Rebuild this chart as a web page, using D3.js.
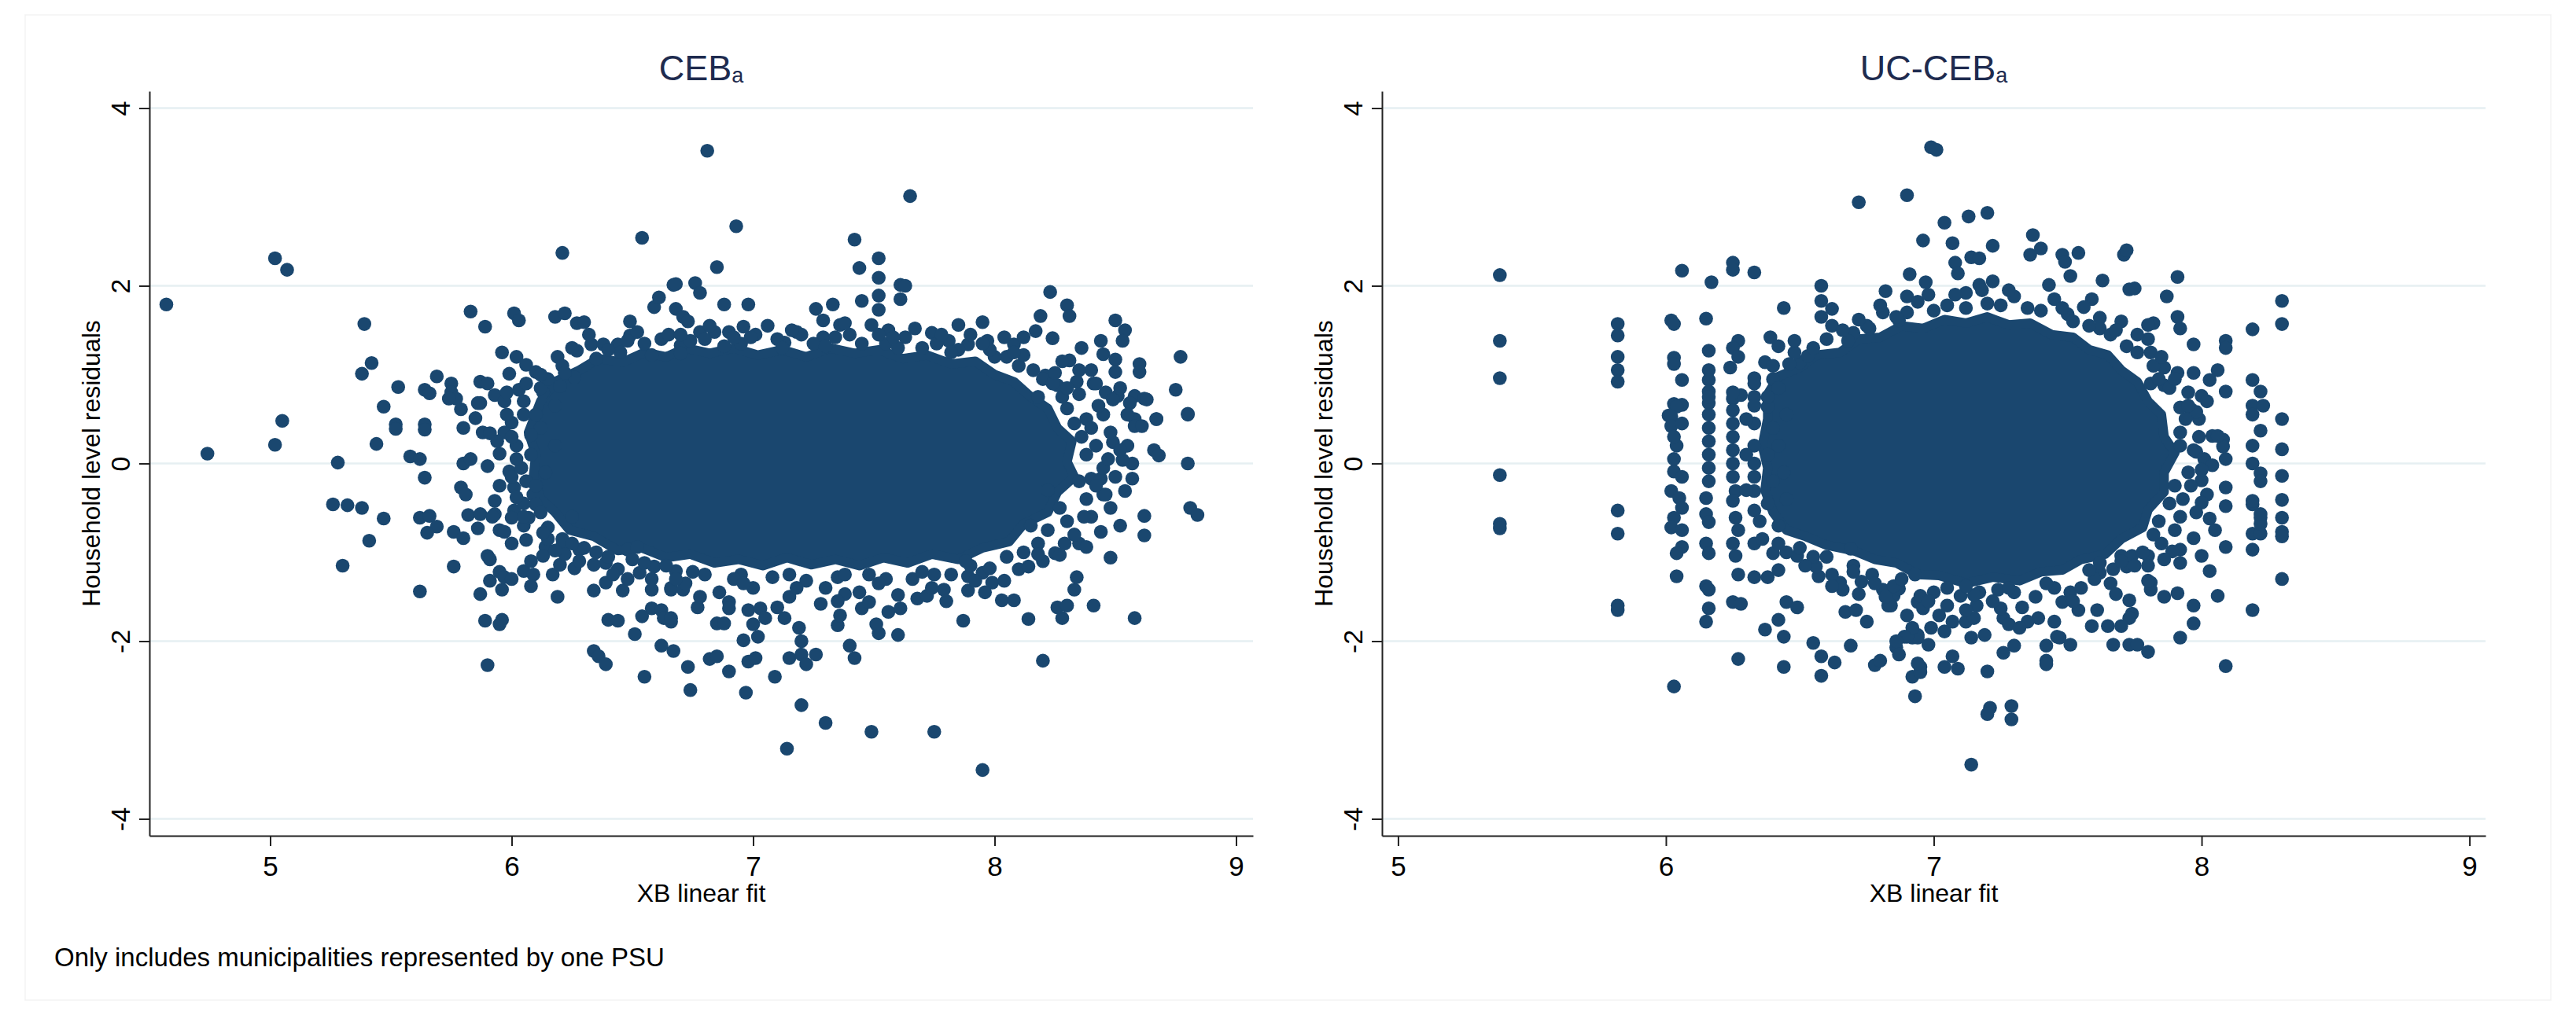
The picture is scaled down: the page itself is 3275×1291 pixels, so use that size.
<!DOCTYPE html>
<html>
<head>
<meta charset="utf-8">
<script src="https://cdn.jsdelivr.net/npm/d3@7/dist/d3.min.js"></script>
<style>
  body { margin: 0; background: #fff; }
  svg { font-family: "Liberation Sans", Arial, sans-serif; }
</style>
</head>
<body>
<div id="graf"></div>
<script>
const xTicks = [5, 6, 7, 8, 9]
const yTicks = [-4, -2, 0, 2, 4]
const nota = "Only includes municipalities represented by one PSU"

// CEB_a : puntos [xb, residuo]
const cebPoints = [
  [4.57,1.79],[5.02,2.31],[5.07,2.18],[6.54,2.54],[6.21,2.37],[5.39,1.57],[5.83,1.71],[5.89,1.54],[6.01,1.69],[6.03,1.61],
  [6.18,1.65],[6.22,1.69],[6.27,1.58],[6.30,1.59],[6.49,1.60],[6.49,1.44],[6.59,1.76],[6.61,1.87],[6.67,2.01],[5.96,1.25],
  [6.02,1.20],[6.06,1.11],[6.10,1.03],[6.33,1.34],[6.38,1.34],[6.44,1.34],[6.27,1.27],[6.19,1.20],[6.21,1.10],[5.42,1.13],
  [5.38,1.01],[5.53,0.86],[5.64,0.83],[5.66,0.79],[5.69,0.98],[5.75,0.90],[5.75,0.80],[5.77,0.73],[5.79,0.61],[5.87,0.92],
  [5.90,0.90],[5.87,0.68],[5.99,1.01],[5.93,0.77],[5.97,0.70],[6.03,0.83],[6.13,0.80],[5.47,0.64],[5.05,0.48],[5.52,0.44],
  [5.64,0.44],[6.20,0.87],[6.26,0.97],
  [6.81,3.52],[7.65,3.01],[6.93,2.67],[7.42,2.52],[6.85,2.21],[7.52,2.31],[7.44,2.20],[7.52,2.09],[7.52,1.89],[7.52,1.73],
  [7.61,2.01],[7.63,2.00],[7.61,1.85],[7.45,1.83],[6.68,2.02],[6.76,2.03],[6.78,1.92],[6.68,1.74],[6.71,1.65],[6.73,1.60],
  [6.88,1.79],[6.98,1.79],[8.23,1.93],[8.30,1.78],[8.31,1.66],[8.19,1.66],[8.17,1.49],[8.24,1.41],[8.50,1.61],[8.54,1.50],
  [8.53,1.38],[8.77,1.20],[8.75,0.83],[8.80,0.56],[8.60,1.12],[8.60,1.03],[8.44,1.38],[8.36,1.30],[8.31,1.16],[8.45,1.23],
  [8.50,1.17],[8.50,1.03],[7.85,1.56],[7.95,1.59],[7.97,1.38],[7.74,1.47],[7.81,1.38],[7.89,1.34],[7.63,1.42],[7.56,1.50],
  [7.26,1.74],[7.33,1.79],[7.29,1.61],[7.36,1.56],[7.29,1.42],[7.49,1.56],[7.18,1.48],[7.13,1.36],[6.96,1.54],[6.78,1.48],
  [6.84,1.48],[6.90,1.48],[7.01,1.45],[6.70,1.33],[6.70,1.24],[8.08,1.34],[8.12,1.42],[8.05,1.20],[8.21,0.99],[8.26,0.88],
  [8.34,0.92],[8.41,0.90],[8.46,0.80],[8.51,0.76],[8.58,0.76],[8.62,0.73],[8.58,0.50],[8.67,0.50],
  [4.74,0.11],[5.02,0.21],[5.28,0.01],[5.26,-0.46],[5.32,-0.47],[5.38,-0.50],[5.47,-0.62],[5.41,-0.87],[5.30,-1.15],[5.44,0.22],
  [5.52,0.39],[5.58,0.08],[5.62,0.05],[5.64,0.38],[5.64,-0.16],[5.62,-0.61],[5.66,-0.59],[5.69,-0.71],[5.65,-0.78],[5.62,-1.44],
  [5.76,-0.77],[5.80,-0.84],[5.76,-1.16],[5.80,0.00],[5.83,0.05],[5.79,-0.27],[5.81,-0.35],[5.80,0.40],[5.86,0.68],[5.85,0.51],
  [5.88,0.35],[5.91,0.34],[5.82,-0.58],[5.87,-0.57],[5.86,-0.73],[5.90,-0.03],[5.95,-0.25],[5.93,-0.42],[5.93,-0.57],[5.95,-0.75],
  [5.97,-0.77],[5.90,-1.04],[5.91,-1.08],[5.95,-1.22],[5.97,-1.28],[5.91,-1.32],[5.96,-1.42],[6.00,-1.30],[5.87,-1.47],[5.89,-1.77],
  [5.95,-1.81],[5.96,-1.76],[5.90,-2.27],[6.05,-1.21],[6.09,-1.25],[6.08,-1.38],[6.06,-0.86],[6.05,-0.70],[6.14,-0.94],[6.13,-1.04],
  [6.17,-1.25],[6.20,-1.14],[6.26,-1.18],[6.19,-1.50],[6.21,-0.85],[6.21,-0.92],[6.28,-0.97],[6.30,-0.95],[6.34,-1.14],[6.39,-1.12],
  [6.44,-1.19],[6.34,-1.43],[6.39,-1.34],[6.46,-1.43],[6.40,-1.76],[6.44,-1.77],[6.51,-1.92],[6.34,-2.11],[6.36,-2.17],[6.39,-2.26],
  [6.54,-1.72],[6.58,-1.63],[6.62,-1.65],[6.66,-1.78],[6.55,-2.40],[6.62,-2.05],[6.67,-2.11],[6.66,-1.42],[6.53,-1.23],[6.59,-1.16],
  [6.68,-1.21],[6.48,-0.97],[6.52,-0.94],[6.00,0.46],[5.97,0.35],[6.01,-0.27],[6.01,-0.53],[6.00,-0.61],[5.95,0.11],[5.99,-0.09],
  [5.74,0.73],[6.06,-0.20],[6.09,-0.35],[6.10,-0.46],[6.07,-0.61],
  [7.14,-3.21],[7.95,-3.45],[7.30,-2.92],[7.49,-3.02],[7.75,-3.02],[7.20,-2.72],[6.97,-2.58],[6.74,-2.55],[6.73,-2.29],[6.82,-2.20],
  [6.85,-2.17],[6.90,-2.34],[6.98,-2.23],[7.01,-2.19],[6.96,-1.99],[7.02,-1.95],[7.00,-1.81],[7.09,-2.40],[7.15,-2.19],[7.20,-2.15],
  [7.22,-2.26],[7.26,-2.15],[7.20,-2.00],[7.19,-1.85],[7.40,-2.05],[7.42,-2.19],[7.35,-1.82],[7.36,-1.71],[7.52,-1.91],[7.60,-1.93],
  [7.51,-1.81],[7.87,-1.77],[8.20,-2.22],[8.14,-1.75],[8.28,-1.74],[8.26,-1.62],[8.30,-1.60],[8.41,-1.60],[8.58,-1.74],[8.33,-1.42],
  [8.34,-1.28],[8.03,-1.54],[8.08,-1.54],[8.10,-1.19],[8.14,-1.16],[8.48,-1.06],[8.44,-0.77],[8.62,-0.59],[8.62,-0.81],[8.81,-0.50],
  [8.84,-0.58],[8.80,0.00],[8.80,0.55],[8.66,0.15],[8.68,0.09],[8.67,0.50],[8.57,-0.17],[8.54,-0.31],[8.57,0.00],[8.45,-0.35],
  [8.40,-0.17],[8.44,-0.17],[8.55,0.20],[8.58,0.42],[8.61,0.42],[8.56,0.68],[8.63,0.72],[8.49,0.72],[8.49,0.24],[8.53,0.04],
  [8.35,-0.90],[8.38,-0.94],[8.25,-1.01],[8.27,-1.03],[8.22,-0.75],[7.89,-1.27],[7.95,-1.23],[7.99,-1.34],[7.96,-1.45],[7.89,-1.43],
  [7.79,-1.42],[7.68,-1.52],[7.72,-1.49],[7.56,-1.67],[7.61,-1.63],[7.45,-1.63],[7.48,-1.56],[7.38,-1.47],[6.63,-1.74],[6.66,-1.74],
  [6.77,-1.62],[6.85,-1.80],[6.88,-1.80],[6.66,-1.40],[6.71,-1.42],[6.90,-1.56],[6.90,-1.63],[6.98,-1.65],[7.03,-1.63],[7.05,-1.74],
  [7.13,-1.74],
  [6.45,1.25],[6.55,1.35],[6.62,1.40],[6.80,1.40],[6.95,1.35],[7.10,1.40],[7.25,1.35],[7.40,1.45],[7.55,1.35],[7.70,1.30],
  [7.85,1.28],[8.00,1.20],[8.10,1.10],[8.20,0.95],[8.28,0.75],[8.38,0.50],[8.42,0.20],[8.45,-0.05],[8.38,-0.40],[8.30,-0.65],
  [8.18,-0.90],[8.05,-1.05],[7.90,-1.15],[7.75,-1.25],[7.55,-1.30],[7.35,-1.28],[7.15,-1.25],[6.95,-1.25],[6.75,-1.22],[6.55,-1.12],
  [6.40,-1.05],[6.25,-0.90],[6.15,-0.72],[6.05,-0.45],[6.00,-0.15],[6.02,0.20],[6.05,0.55],[6.12,0.85],[6.22,1.02],[6.35,1.18],
  [6.25,1.30],[6.32,1.45],[6.40,1.28],[6.52,1.48],[6.58,1.22],[6.65,1.45],[6.74,1.38],[6.82,1.55],[6.88,1.32],[6.99,1.42],
  [7.06,1.55],[7.12,1.30],[7.20,1.45],[7.30,1.32],[7.38,1.58],[7.45,1.35],[7.52,1.45],[7.60,1.30],[7.67,1.52],[7.76,1.35],
  [7.82,1.25],[7.90,1.45],[7.98,1.28],[8.04,1.42],[8.12,1.22],[8.16,1.05],
  [8.18,0.75],[8.24,0.90],[8.30,0.62],[8.35,0.78],[8.40,0.40],[8.33,0.45],[8.45,0.55],[8.48,0.35],[8.38,0.10],[8.47,0.05],
  [8.50,-0.15],[8.42,-0.25],[8.35,-0.20],[8.48,-0.50],[8.40,-0.60],[8.33,-0.80],[8.27,-0.50],[8.22,-0.30],[8.15,-0.70],[8.12,-1.00],
  [8.20,-1.10],[8.52,-0.70],[8.55,0.55],[8.52,0.85],[8.40,1.05],[8.28,1.15],[8.35,1.05],
  [6.35,-1.00],[6.42,-1.25],[6.50,-1.08],[6.58,-1.30],[6.64,-1.15],[6.72,-1.35],[6.80,-1.25],[6.86,-1.45],[6.92,-1.30],[7.00,-1.40],
  [7.08,-1.28],[7.15,-1.50],[7.22,-1.32],[7.30,-1.40],[7.38,-1.25],[7.44,-1.45],[7.52,-1.35],[7.60,-1.48],[7.66,-1.30],[7.74,-1.40],
  [7.82,-1.25],[7.88,-1.10],[7.98,-1.18],[8.04,-1.32],[7.10,-1.62],[7.28,-1.58],[6.78,-1.50],
  [6.05,0.70],[6.10,0.55],[6.00,0.30],[6.08,0.10],[6.12,0.40],[6.15,0.95],[6.18,0.65],[6.04,-0.05],[6.10,-0.25],[6.02,-0.38],
  [6.12,-0.55],[6.15,-0.85],[6.22,-1.02],[6.28,-1.10],[6.25,-0.60],[6.18,0.20],[6.14,-0.10],[5.98,0.55],[5.94,0.25],[5.92,-0.60],
  [6.08,-1.10],
  [8.36,0.30],[8.43,0.65],[8.30,0.85],[8.46,-0.35],[8.37,-0.60],[8.29,-0.90],[8.42,0.90],[8.52,0.15],[8.25,1.02],[8.18,-1.02],
  [6.06,0.90],[6.12,1.00],[6.02,0.05],[6.05,-0.60],[6.13,-0.78],[6.00,-0.90],[6.18,-0.98],[5.98,0.80],[6.08,0.32],
  [6.48,1.38],[6.70,1.45],[6.92,1.42],[7.16,1.50],[7.34,1.42],[7.58,1.42],[7.78,1.45],[7.95,1.35],[8.08,1.25],
  [6.48,-1.30],[6.68,-1.30],[6.96,-1.35],[7.18,-1.40],[7.48,-1.25],[7.70,-1.22],[7.92,-1.32],[6.58,-1.42],[7.35,-1.55],[7.80,-1.55]
]

// zona donde los puntos se solapan por completo
const cebCore = [
  [6.12,0.70],[6.18,0.92],[6.28,1.05],[6.36,1.18],[6.46,1.14],[6.55,1.25],[6.64,1.20],[6.72,1.30],[6.82,1.24],[6.92,1.30],
  [7.02,1.22],[7.12,1.28],[7.22,1.20],[7.32,1.30],[7.42,1.24],[7.52,1.28],[7.62,1.18],[7.72,1.22],[7.82,1.12],[7.92,1.15],
  [8.00,1.00],[8.08,0.92],[8.15,0.75],[8.22,0.62],[8.26,0.40],[8.32,0.25],[8.30,0.02],[8.33,-0.15],[8.26,-0.32],[8.22,-0.55],
  [8.12,-0.68],[8.06,-0.88],[7.95,-0.95],[7.85,-1.08],[7.74,-1.02],[7.64,-1.12],[7.54,-1.06],[7.44,-1.15],[7.34,-1.08],[7.24,-1.14],
  [7.14,-1.06],[7.04,-1.15],[6.94,-1.08],[6.84,-1.12],[6.74,-1.02],[6.64,-1.06],[6.54,-0.95],[6.44,-0.98],[6.34,-0.82],[6.24,-0.75],
  [6.18,-0.55],[6.12,-0.40],[6.09,-0.15],[6.10,0.10],[6.07,0.35]
]

// UC-CEB_a
const ucPoints = [
  [5.38,2.12],[5.38,1.38],[5.38,0.96],[5.82,1.57],[5.82,1.44],[5.82,1.20],[5.82,1.05],[5.82,0.92],[6.02,1.61],[6.03,1.57],
  [6.03,1.19],[6.03,1.12],[6.06,0.94],[6.03,0.67],[6.06,0.66],[6.01,0.54],[6.06,2.17],[6.17,2.04],[6.25,2.26],[6.25,2.18],
  [6.33,2.15],[6.15,1.63],[6.16,1.27],[6.16,1.05],[6.16,0.94],[6.16,0.81],[6.16,0.68],[6.16,0.55],[6.27,1.38],[6.25,1.30],
  [6.27,1.20],[6.24,1.08],[6.39,1.42],[6.44,1.75],[6.58,2.00],[6.58,1.83],[6.62,1.74],[6.58,1.65],[6.72,2.94],[6.90,3.02],
  [6.96,2.51],[6.91,2.13],[6.82,1.94],[6.90,1.88],[6.81,1.70],[6.87,1.61],[6.70,1.47],[6.76,1.52],[6.42,1.32],[6.37,1.14],
  [6.33,0.96],[6.50,1.14],[6.53,1.21],[6.38,0.64],[6.25,0.73],[6.28,0.77],[6.99,3.56],[7.01,3.53],
  [7.04,2.71],[7.13,2.78],[7.20,2.82],[7.07,2.48],[7.22,2.45],[7.14,2.32],[7.17,2.31],[7.08,2.26],[7.09,2.14],[7.37,2.57],
  [7.40,2.42],[7.36,2.35],[7.48,2.35],[7.49,2.27],[7.54,2.37],[7.71,2.35],[7.72,2.40],[7.51,2.11],[7.63,2.06],[7.91,2.10],
  [7.73,1.96],[7.75,1.97],[7.87,1.88],[7.43,2.01],[7.22,2.05],[7.17,2.01],[7.12,1.92],[6.97,2.04],[8.30,1.83],[8.30,1.57],
  [8.19,1.51],[8.09,1.38],[8.09,1.30],[7.97,1.34],[7.91,1.65],[7.92,1.52],[7.82,1.58],[7.80,1.56],[7.62,1.64],[7.59,1.85],
  [7.56,1.76],[8.19,0.94],[8.22,0.81],[8.19,0.65],[8.23,0.65],[8.06,1.05],[8.03,0.94],[8.09,0.81],[8.00,0.76],[7.97,1.02],
  [7.91,1.02],[7.86,1.08],[7.86,0.88],[7.81,1.25],[7.81,0.90],[8.30,0.50],[7.92,0.63],[7.96,0.61],
  [5.38,-0.13],[5.38,-0.68],[5.38,-0.73],[5.82,-0.53],[5.82,-0.79],[5.82,-1.60],[5.82,-1.65],[6.03,-2.51],
  [6.04,0.64],[6.02,0.53],[6.02,0.42],[6.04,0.20],[6.03,-0.09],[6.02,-0.31],[6.05,-0.39],[6.03,-0.61],[6.02,-0.72],[6.06,-0.75],
  [6.06,-0.94],[6.04,-1.01],[6.04,-1.27],
  [6.15,-0.39],[6.15,-0.57],[6.16,-0.66],[6.15,-0.90],[6.16,-1.01],[6.15,-1.38],[6.16,-1.42],[6.16,-1.63],[6.15,-1.78],
  [6.26,-0.31],[6.25,-0.42],[6.26,-0.61],[6.27,-0.75],[6.25,-0.90],[6.26,-1.04],[6.27,-1.25],[6.25,-1.56],[6.28,-1.58],[6.27,-2.20],
  [6.33,-0.31],[6.33,-0.53],[6.33,-0.90],[6.33,-1.28],[6.37,-1.87],[6.42,-1.76],[6.44,-1.95],[6.44,-2.29],[6.38,-1.28],[6.42,-1.20],
  [6.40,-1.01],[6.45,-1.56],[6.49,-1.62],[6.49,-1.04],[6.55,-2.02],[6.58,-2.17],[6.63,-2.24],[6.58,-2.39],[6.69,-2.05],[6.57,-1.27],
  [6.56,-1.16],[6.65,-1.34],[6.66,-1.42],[6.69,-0.96],[6.67,-1.67],[6.71,-1.65],[6.75,-1.78],[6.72,-1.47],[6.78,-2.27],[6.80,-2.22],
  [6.83,-1.60],[6.85,-1.49],[6.86,-2.07],[6.87,-2.15],[6.92,-1.96],[6.94,-1.93],[6.92,-2.40],[6.93,-2.62],[6.95,-2.29],[6.70,-1.15],
  [6.73,-1.33],[6.77,-1.25],[6.81,-1.42],[6.93,-1.25],[6.94,-1.56],
  [6.03,0.30],[6.03,0.05],[6.06,0.45],[6.06,-0.15],[6.06,-0.50],[6.16,0.75],[6.16,0.40],[6.16,0.25],[6.16,0.10],[6.16,-0.05],
  [6.16,-0.20],[6.25,0.80],[6.25,0.60],[6.25,0.45],[6.25,0.30],[6.25,0.15],[6.25,0.00],[6.25,-0.15],[6.33,0.75],[6.33,0.65],
  [6.33,0.45],[6.33,0.20],[6.33,0.00],[6.33,-0.15],
  [7.14,-3.39],[7.21,-2.75],[7.20,-2.82],[7.29,-2.73],[7.29,-2.88],[7.20,-2.34],[6.95,-2.35],[6.94,-2.25],[7.04,-2.29],[7.09,-2.31],
  [7.07,-2.17],[6.98,-2.04],[6.94,-1.96],[6.90,-1.95],[7.14,-1.96],[7.19,-1.93],[7.26,-2.13],[7.30,-2.05],[7.42,-2.22],[7.42,-2.26],
  [7.42,-2.05],[7.47,-1.96],[7.51,-2.04],[7.67,-2.04],[7.73,-2.04],[7.76,-2.04],[7.80,-2.12],[7.92,-1.96],[8.09,-2.28],[7.97,-1.60],
  [7.97,-1.80],[8.06,-1.49],[7.86,-1.50],[7.91,-1.46],[7.81,-1.34],[7.81,-1.42],[8.19,-1.65],[8.30,-1.30],[8.19,-0.97],[8.19,-0.79],
  [8.22,-0.79],[8.19,-0.46],[8.22,-0.61],[8.22,-0.68],[8.30,0.16],[8.30,-0.14],[8.30,-0.41],[8.30,-0.61],[8.30,-0.77],[8.30,-0.82],
  [8.19,0.55],[8.22,0.37],[8.19,0.20],[8.19,0.00],[8.22,-0.11],[8.22,-0.20],[8.19,-0.42],[8.22,-0.57],[8.09,-0.27],[8.09,-0.48],
  [8.09,-0.94],[8.08,0.27],[8.09,0.05],[8.08,0.19],[8.03,-0.62],[8.02,-0.35],[8.01,0.05],[8.04,-0.02],[8.03,-1.21],[8.00,-1.04],
  [8.00,-0.44],[8.00,-0.19],[8.00,-0.07],[7.97,-0.84],[7.98,0.13],[7.99,0.50],[7.98,0.58],[8.04,0.31],[8.06,0.31],[7.92,-1.12],
  [7.92,-0.97],[7.89,-0.99],[7.86,-1.08],[7.80,-1.04],[7.80,-1.32],[7.73,-1.54],[7.74,-1.69],[7.73,-1.74],[7.70,-1.83],[7.68,-1.47],
  [7.61,-1.65],[7.65,-1.83],[7.59,-1.83],[7.54,-1.65],[7.48,-1.56],[7.51,-1.45],[7.62,-1.23],[7.62,-1.12],[7.67,-1.19],[7.72,-1.16],
  [7.74,-1.04],[7.70,-1.04],[7.45,-1.78],[7.46,-1.95],[7.39,-1.74],[7.35,-1.78],[7.26,-1.74],[7.28,-1.81],[7.32,-1.85],[7.25,-1.63],
  [7.12,-1.78],[7.15,-1.74],[7.16,-1.60],[7.04,-1.89],[6.99,-1.85],[6.92,-1.85],[6.89,-1.95],[6.86,-2.00],[6.90,-1.71],[6.96,-1.63],
  [7.02,-1.71],[7.07,-1.78],[6.84,-1.60],[6.87,-1.41],[6.95,-1.49],[7.05,-1.60],[7.10,-1.49],[7.17,-1.45],[7.24,-1.42],
  [6.40,1.10],[6.48,1.25],[6.60,1.40],[6.75,1.55],[6.90,1.70],[7.05,1.78],[7.20,1.80],[7.35,1.75],[7.50,1.68],[7.62,1.52],
  [7.72,1.32],[7.82,1.10],[7.88,0.85],[7.94,0.50],[7.97,0.15],[7.96,-0.25],[7.92,-0.60],[7.85,-0.90],[7.75,-1.15],[7.60,-1.30],
  [7.45,-1.40],[7.30,-1.45],[7.15,-1.48],[7.00,-1.45],[6.85,-1.38],[6.70,-1.22],[6.55,-1.05],[6.42,-0.90],[6.35,-0.65],[6.30,-0.30],
  [6.30,0.10],[6.30,0.50],[6.33,0.90],
  [6.55,1.30],[6.62,1.55],[6.68,1.38],[6.72,1.62],[6.80,1.78],[6.86,1.65],[6.94,1.82],[7.00,1.72],[7.08,1.90],[7.12,1.75],
  [7.18,1.95],[7.25,1.78],[7.30,1.88],[7.40,1.72],[7.45,1.85],[7.52,1.60],[7.58,1.55],[7.66,1.45],[7.70,1.60],[7.76,1.25],
  [7.80,1.40],[7.85,1.20],[6.46,1.12],[6.40,0.95],
  [7.90,0.95],[7.95,0.80],[7.92,0.35],[7.99,0.30],[7.95,-0.10],[7.93,-0.40],[7.98,-0.55],[7.90,-0.75],[7.88,-0.45],[7.95,0.65],
  [8.02,0.70],[8.05,-0.75],
  [6.45,-1.00],[6.52,-1.15],[6.60,-1.05],[6.62,-1.25],[6.78,-1.35],[6.88,-1.30],[6.98,-1.55],[7.05,-1.40],[7.12,-1.38],[7.22,-1.55],
  [7.28,-1.40],[7.38,-1.50],[7.42,-1.35],[7.55,-1.40],[7.58,-1.20],[7.66,-1.35],[7.70,-1.10],[7.78,-1.00],[7.82,-0.80],[7.12,-1.65],
  [7.33,-1.62],
  [6.38,0.75],[6.40,0.40],[6.38,0.10],[6.40,-0.20],[6.38,-0.45],[6.42,-0.70],[6.36,-0.85],[6.45,0.55],[6.45,-0.40],
  [6.48,1.38],[6.66,1.50],[6.98,1.90],[7.28,1.95],[7.48,1.75],[7.68,1.50],[7.76,1.45],[7.84,0.95],[7.92,0.20],[7.90,-0.25],
  [7.84,-0.65],[7.80,-1.15],[7.52,-1.55],[6.82,-1.50],[6.62,-1.38],[6.50,-0.95],[6.42,0.20],[6.44,-0.10],[6.42,0.85]
]

const ucCore = [
  [6.38,0.78],[6.42,0.98],[6.50,1.08],[6.56,1.22],[6.65,1.25],[6.72,1.40],[6.80,1.42],[6.88,1.55],[6.96,1.52],[7.04,1.62],
  [7.12,1.58],[7.20,1.65],[7.28,1.56],[7.36,1.58],[7.44,1.45],[7.52,1.42],[7.58,1.28],[7.65,1.22],[7.70,1.05],[7.76,0.92],
  [7.80,0.70],[7.85,0.55],[7.86,0.30],[7.90,0.12],[7.86,-0.10],[7.86,-0.32],[7.80,-0.52],[7.78,-0.72],[7.70,-0.85],[7.64,-1.02],
  [7.55,-1.08],[7.48,-1.20],[7.40,-1.22],[7.32,-1.32],[7.22,-1.28],[7.12,-1.35],[7.02,-1.26],[6.94,-1.25],[6.86,-1.12],[6.78,-1.08],
  [6.70,-0.98],[6.60,-0.92],[6.52,-0.82],[6.45,-0.75],[6.40,-0.55],[6.37,-0.30],[6.38,-0.05],[6.36,0.20],[6.38,0.50]
]

const ancho = 3275, alto = 1291
const colorPunto = "#1a476f"
const plotTop = 116, plotBottom = 1063

const svg = d3.select("#graf")
  .append("svg")
  .attr("width", ancho)
  .attr("height", alto)

svg.append("rect")
  .attr("x", 32).attr("y", 19)
  .attr("width", ancho - 64).attr("height", alto - 38)
  .attr("fill", "none").attr("stroke", "#f3f3f3").attr("stroke-width", 1.5)

const paneles = [
  { titulo: "CEB", puntos: cebPoints, nucleo: cebCore, left: 190, right: 1593, xDom: [4.5, 9.07] },
  { titulo: "UC-CEB", puntos: ucPoints, nucleo: ucCore, left: 1757, right: 3160, xDom: [4.94, 9.06] }
]

const y = d3.scaleLinear().domain([-4.19, 4.19]).range([plotBottom, plotTop])

paneles.forEach(p => {
  const x = d3.scaleLinear().domain(p.xDom).range([p.left, p.right])
  const g = svg.append("g")
  const centro = (p.left + p.right) / 2

  // lineas de cuadricula
  g.append("g").selectAll("line").data(yTicks).join("line")
    .attr("x1", p.left).attr("x2", p.right)
    .attr("y1", d => y(d)).attr("y2", d => y(d))
    .attr("stroke", "#e6eff2").attr("stroke-width", 2.5)

  const linea = d3.line().x(d => x(d[0])).y(d => y(d[1])).curve(d3.curveLinearClosed)
  g.append("path")
    .attr("d", linea(p.nucleo))
    .attr("fill", colorPunto)
    .attr("stroke", colorPunto)
    .attr("stroke-width", 12)
    .attr("stroke-linejoin", "round")

  g.append("g").selectAll("circle").data(p.puntos).join("circle")
    .attr("cx", d => x(d[0]))
    .attr("cy", d => y(d[1]))
    .attr("r", 8.8)
    .attr("fill", colorPunto)

  const ejeX = g.append("g")
    .attr("transform", `translate(0, ${plotBottom})`)
    .call(d3.axisBottom(x).tickValues(xTicks).tickSize(13).tickSizeOuter(0).tickFormat(d => String(d)))
  ejeX.select(".domain").attr("stroke", "#222").attr("stroke-width", 2)
  ejeX.selectAll(".tick line").attr("stroke", "#222").attr("stroke-width", 2)
  ejeX.selectAll(".tick text")
    .attr("y", 51).attr("dy", 0)
    .attr("font-size", 35).attr("fill", "#000")
    .attr("font-family", "Liberation Sans, Arial, sans-serif")

  const ejeY = g.append("g")
    .attr("transform", `translate(${p.left}, 0)`)
    .call(d3.axisLeft(y).tickValues(yTicks).tickSize(13).tickSizeOuter(0).tickFormat(d => String(d)))
  ejeY.select(".domain").attr("stroke", "#222").attr("stroke-width", 2)
  ejeY.selectAll(".tick line").attr("stroke", "#222").attr("stroke-width", 2)
  ejeY.selectAll(".tick text")
    .attr("transform", "rotate(-90)")
    .attr("x", 0).attr("y", -25).attr("dy", 0)
    .attr("text-anchor", "middle")
    .attr("font-size", 34).attr("fill", "#000")
    .attr("font-family", "Liberation Sans, Arial, sans-serif")

  g.append("text")
    .attr("transform", `translate(${p.left - 63}, ${(plotTop + plotBottom) / 2}) rotate(-90)`)
    .attr("text-anchor", "middle")
    .attr("font-size", 32)
    .text("Household level residuals")

  g.append("text")
    .attr("x", centro).attr("y", 1147)
    .attr("text-anchor", "middle")
    .attr("font-size", 32)
    .text("XB linear fit")

  const tit = g.append("text")
    .attr("x", centro).attr("y", 102)
    .attr("text-anchor", "middle")
    .attr("font-size", 45)
    .attr("fill", "#1e2b4f")
    .text(p.titulo)
  tit.append("tspan").attr("font-size", 27).attr("dy", 3).text("a")
})

svg.append("text")
  .attr("x", 69).attr("y", 1229)
  .attr("font-size", 33)
  .text(nota)
</script>
</body>
</html>
